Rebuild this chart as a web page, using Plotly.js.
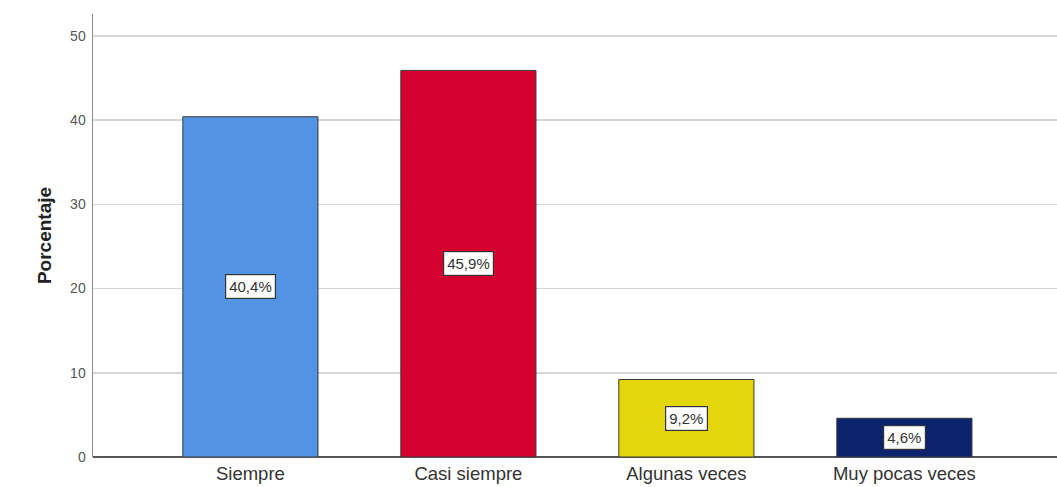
<!DOCTYPE html>
<html>
<head>
<meta charset="utf-8">
<script src="https://cdn.plot.ly/plotly-3.0.1.min.js"></script>
<style>html,body{margin:0;padding:0;background:#fff;}#chart{width:1057px;height:487px;}</style>
</head>
<body>
<div id="chart"></div>
<script>
const categories = ["Siempre", "Casi siempre", "Algunas veces", "Muy pocas veces"];
const values = [40.4, 45.9, 9.2, 4.6];
const labels = ["40,4%", "45,9%", "9,2%", "4,6%"];
const colors = ["rgb(83,148,226)", "rgb(212,0,46)", "rgb(227,214,12)", "rgb(12,36,110)"];
const yTicks = [0, 10, 20, 30, 40, 50];

const trace = {
  type: "bar",
  x: categories,
  y: values,
  width: 0.62,
  marker: { color: colors, line: { color: "#3a3a3a", width: 1 } },
  hoverinfo: "none"
};

const annotations = categories.map((c, i) => ({
  x: c, y: values[i] / 2, xref: "x", yref: "y",
  text: labels[i], showarrow: false,
  bgcolor: "#ffffff", bordercolor: "#333333", borderwidth: 1.2, borderpad: 3,
  font: { family: "Liberation Sans, Arial, sans-serif", size: 15, color: "#333333" }
}));

const layout = {
  width: 1057, height: 487,
  margin: { l: 93, r: 0, t: 14, b: 30 },
  paper_bgcolor: "#ffffff", plot_bgcolor: "#ffffff",
  showlegend: false,
  xaxis: {
    type: "category",
    range: [-0.722, 3.70],
    showgrid: false, zeroline: false,
    showline: false,
    ticks: "", ticklabelstandoff: 3,
    tickfont: { family: "Liberation Sans, Arial, sans-serif", size: 18.5, color: "#333333" }
  },
  yaxis: {
    range: [0, 52.6],
    tickvals: yTicks,
    ticktext: yTicks.map(String),
    showgrid: true, gridcolor: "#d6d6d6", gridwidth: 1.5,
    zeroline: true, zerolinecolor: "#555555", zerolinewidth: 1.5,
    showline: true, linecolor: "#8a8a8a", linewidth: 1.5,
    ticks: "", ticklabelstandoff: 3,
    tickfont: { family: "Liberation Sans, Arial, sans-serif", size: 14, color: "#555555" },
    title: { text: "<b>Porcentaje</b>", standoff: 13,
      font: { family: "Liberation Sans, Arial, sans-serif", size: 19, color: "#222222" } }
  },
  annotations: annotations
};

Plotly.newPlot("chart", [trace], layout, { displayModeBar: false, staticPlot: true });
</script>
</body>
</html>
